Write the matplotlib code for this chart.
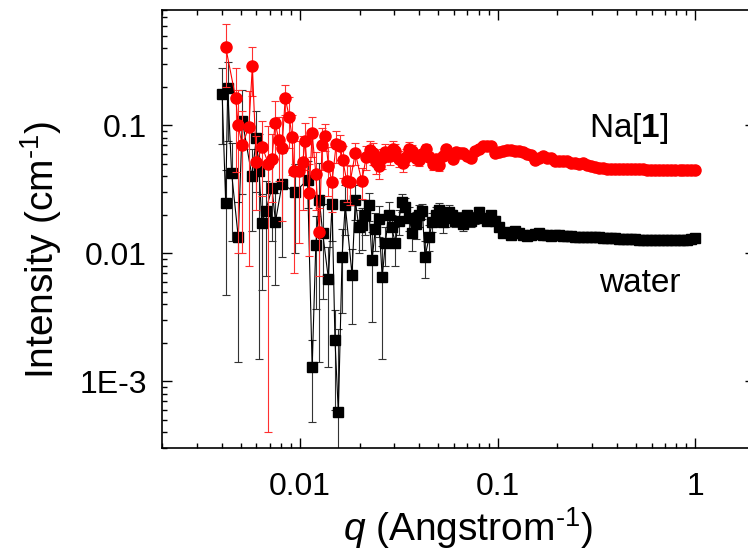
import matplotlib
matplotlib.use("Agg")
import matplotlib.pyplot as plt
from matplotlib.ticker import FixedLocator, FixedFormatter, LogLocator, NullFormatter

plt.rcParams['font.family'] = ['Liberation Sans', 'DejaVu Sans']
plt.rcParams['mathtext.fontset'] = 'custom'
plt.rcParams['mathtext.rm'] = 'Liberation Sans'
plt.rcParams['mathtext.it'] = 'Liberation Sans:italic'
plt.rcParams['mathtext.bf'] = 'Liberation Sans:bold'

# ---------------- data: Na[1] (red circles) ----------------
na_q = [0.0042, 0.00472, 0.00486, 0.00509, 0.0055, 0.00573, 0.0060, 0.00644, 0.0069, 0.0072,
        0.00747, 0.0078, 0.0081, 0.0084, 0.0088, 0.0091, 0.0093, 0.0099, 0.0103, 0.0106,
        0.0111, 0.0115, 0.0120, 0.0125, 0.0129, 0.0134, 0.0139, 0.0145, 0.0152, 0.0159,
        0.0164, 0.0172, 0.0179, 0.0190, 0.0205, 0.0216, 0.0225, 0.0233, 0.0241, 0.0250,
        0.0260, 0.0270, 0.0285, 0.0295, 0.0303, 0.0316, 0.0330, 0.0343, 0.0356, 0.0369,
        0.0385, 0.0400, 0.0415, 0.0431, 0.0451, 0.0470, 0.0487, 0.0504, 0.0525, 0.0546,
        0.0570, 0.0594, 0.0615,
        0.064, 0.067, 0.070, 0.073, 0.077, 0.080, 0.084, 0.088, 0.092, 0.097,
        0.101, 0.106, 0.111, 0.117, 0.122, 0.128, 0.134, 0.141, 0.148, 0.155,
        0.162, 0.170, 0.178, 0.186, 0.195, 0.205, 0.214, 0.225, 0.235, 0.247,
        0.258, 0.271, 0.284, 0.297, 0.311, 0.326, 0.342, 0.358, 0.375, 0.393,
        0.412, 0.432, 0.452, 0.474, 0.496, 0.520, 0.545, 0.571, 0.598, 0.627,
        0.657, 0.688, 0.721, 0.756, 0.792, 0.830, 0.869, 0.911, 0.954, 1.000]
na_I = [0.41, 0.163, 0.100, 0.070, 0.097, 0.29, 0.052, 0.068, 0.050, 0.055,
        0.105, 0.077, 0.067, 0.164, 0.117, 0.081, 0.044, 0.044, 0.052, 0.075,
        0.0296, 0.087, 0.042, 0.0146, 0.070, 0.083, 0.048, 0.036, 0.071, 0.069,
        0.054, 0.037, 0.036, 0.061, 0.0365, 0.057, 0.064, 0.061, 0.052, 0.048,
        0.056, 0.062, 0.058, 0.066, 0.063, 0.055, 0.051, 0.057, 0.066, 0.063,
        0.056, 0.054, 0.060, 0.065, 0.057, 0.050, 0.055, 0.049, 0.058, 0.065,
        0.060, 0.055, 0.062,
        0.061, 0.0608, 0.058, 0.0556, 0.0626, 0.065, 0.0685, 0.0685, 0.0685, 0.0608,
        0.062, 0.0626, 0.064, 0.0645, 0.063, 0.0626, 0.062, 0.060, 0.059, 0.054,
        0.056, 0.0573, 0.056, 0.0556, 0.053, 0.0523, 0.0523, 0.0523, 0.051, 0.051,
        0.050, 0.0505, 0.0493, 0.048, 0.047, 0.0464, 0.0462, 0.046, 0.046, 0.0458,
        0.0458, 0.0456, 0.0455, 0.0455, 0.0455, 0.0454, 0.0453, 0.0452, 0.0451, 0.045,
        0.045, 0.045, 0.045, 0.0449, 0.0449, 0.0448, 0.0448, 0.0447, 0.0446, 0.0446]
na_err = [0.21, 0.12, 0.09, 0.06, 0.089, 0.12, 0.03, 0.04, 0.0496, 0.03,
          0.05, 0.04, 0.049, 0.044, 0.05, 0.04, 0.037, 0.032, 0.03, 0.03,
          0.02, 0.03, 0.02, 0.008, 0.025, 0.02, 0.02, 0.015, 0.02, 0.015,
          0.015, 0.012, 0.012, 0.012, 0.01, 0.012, 0.012, 0.012, 0.01, 0.01,
          0.01, 0.01, 0.009, 0.009, 0.009, 0.008, 0.008, 0.008, 0.008, 0.007,
          0.007, 0.006, 0.006, 0.006, 0.005, 0.005, 0.005, 0.005, 0.004, 0.004,
          0.004, 0.004, 0.003,
          0.003, 0.003, 0.003, 0.003, 0.003, 0.003, 0.003, 0.002, 0.002, 0.002,
          0.002, 0.002, 0.002, 0.002, 0.002, 0.002, 0.002, 0.002, 0.002, 0.002,
          0.001, 0.001, 0.001, 0.001, 0.001, 0.001, 0.001, 0.001, 0.001, 0.001,
          0.001, 0.001, 0.001, 0.001, 0.001, 0.001, 0.001, 0.001, 0.001, 0.001,
          0.001, 0.001, 0.001, 0.001, 0.001, 0.001, 0.001, 0.001, 0.001, 0.001,
          0.001, 0.001, 0.001, 0.001, 0.001, 0.001, 0.001, 0.001, 0.001, 0.001]

# ---------------- data: water (black squares) ----------------
w_q = [0.00403, 0.0042, 0.0043, 0.0045, 0.00486, 0.0051, 0.0057, 0.0060, 0.0062, 0.0064,
       0.0067, 0.0072, 0.0075, 0.0081, 0.0094, 0.0109, 0.0115, 0.0120, 0.0125, 0.0130,
       0.0139, 0.0145, 0.0150, 0.0156, 0.0163, 0.0169, 0.0183, 0.0190, 0.0198, 0.0206,
       0.0213, 0.0222, 0.0231, 0.0240, 0.0250, 0.0260, 0.0270, 0.0280, 0.0290, 0.0303,
       0.0315, 0.0328, 0.0340, 0.0355, 0.0369, 0.0385, 0.0399, 0.0415, 0.0428, 0.0450,
       0.0466, 0.0485, 0.0505, 0.0525, 0.0545, 0.0565, 0.0588, 0.0610,
       0.064, 0.067, 0.070, 0.073, 0.077, 0.080, 0.084, 0.088, 0.092, 0.097,
       0.101, 0.106, 0.111, 0.117, 0.122, 0.128, 0.134, 0.141, 0.148, 0.155,
       0.162, 0.170, 0.178, 0.186, 0.195, 0.205, 0.214, 0.225, 0.235, 0.247,
       0.258, 0.271, 0.284, 0.297, 0.311, 0.326, 0.342, 0.358, 0.375, 0.393,
       0.412, 0.432, 0.452, 0.474, 0.496, 0.520, 0.545, 0.571, 0.598, 0.627,
       0.657, 0.688, 0.721, 0.756, 0.792, 0.830, 0.869, 0.911, 0.954, 1.000]
w_I = [0.176, 0.0247, 0.196, 0.0424, 0.0134, 0.109, 0.040, 0.080, 0.0437, 0.0172,
       0.0216, 0.0324, 0.0177, 0.035, 0.030, 0.0376, 0.00128, 0.0117, 0.0262, 0.0144,
       0.0063, 0.0244, 0.0021, 0.00057, 0.0094, 0.024, 0.0068, 0.0262, 0.016, 0.0167,
       0.020, 0.0238, 0.0088, 0.0155, 0.0185, 0.0065, 0.012, 0.020, 0.016, 0.012,
       0.018, 0.0251, 0.023, 0.019, 0.0145, 0.017, 0.020, 0.0215, 0.0094, 0.0135,
       0.0177, 0.020, 0.0219, 0.0175, 0.019, 0.021, 0.020, 0.018,
       0.019, 0.017, 0.020, 0.018, 0.019, 0.021, 0.019, 0.018, 0.020, 0.018,
       0.016, 0.0145, 0.0148, 0.0140, 0.0150, 0.0145, 0.0140, 0.0137, 0.0140, 0.0142,
       0.0143, 0.0140, 0.0138, 0.0137, 0.0140, 0.0139, 0.0137, 0.0136, 0.0136, 0.0135,
       0.0134, 0.0133, 0.0133, 0.0134, 0.0133, 0.0133, 0.0132, 0.0131, 0.0131, 0.0131,
       0.0130, 0.0130, 0.0130, 0.0129, 0.0129, 0.0128, 0.0128, 0.0128, 0.0128, 0.0127,
       0.0127, 0.0127, 0.0127, 0.0127, 0.0126, 0.0126, 0.0126, 0.0127, 0.0129, 0.0132]
w_err = [0.105, 0.02, 0.12, 0.03, 0.012, 0.08, 0.025, 0.05, 0.0422, 0.012,
         0.015, 0.02, 0.012, 0.0256, 0.02, 0.015, 0.0008, 0.008, 0.0248, 0.01,
         0.005, 0.012, 0.0015, 0.002, 0.006, 0.01, 0.004, 0.008, 0.006, 0.006,
         0.006, 0.006, 0.0059, 0.005, 0.005, 0.005, 0.004, 0.005, 0.004, 0.004,
         0.004, 0.004, 0.004, 0.004, 0.004, 0.004, 0.004, 0.003, 0.003, 0.003,
         0.003, 0.003, 0.003, 0.003, 0.003, 0.003, 0.002, 0.002,
         0.002, 0.002, 0.002, 0.002, 0.002, 0.002, 0.0015, 0.0015, 0.0015, 0.0015,
         0.001, 0.001, 0.001, 0.001, 0.001, 0.001, 0.001, 0.001, 0.001, 0.001,
         0.0006, 0.0006, 0.0006, 0.0006, 0.0006, 0.0006, 0.0006, 0.0006, 0.0006, 0.0006,
         0.0005, 0.0005, 0.0005, 0.0005, 0.0005, 0.0005, 0.0005, 0.0005, 0.0005, 0.0005,
         0.0005, 0.0005, 0.0005, 0.0005, 0.0005, 0.0005, 0.0005, 0.0005, 0.0005, 0.0005,
         0.0005, 0.0005, 0.0005, 0.0005, 0.0005, 0.0005, 0.0005, 0.0005, 0.0005, 0.0005]

x_ticks = [0.01, 0.1, 1]
x_ticklabels = ['0.01', '0.1', '1']
y_ticks = [1e-3, 1e-2, 1e-1]
y_ticklabels = ['1E-3', '0.01', '0.1']

W, H = 748, 555
fig = plt.figure(figsize=(W / 100, H / 100), dpi=100)
ax = fig.add_axes([162 / W, 107 / H, (755 - 162) / W, 438 / H])
ax.set_xscale('log')
ax.set_yscale('log')

ax.errorbar(w_q, w_I, yerr=w_err, fmt='-s', color='black', ms=7, lw=0.8,
            elinewidth=0.8, capsize=3.2, capthick=0.8, ecolor='#333333', zorder=2)
ax.errorbar(na_q, na_I, yerr=na_err, fmt='-o', color='red', ms=8, lw=0.8,
            elinewidth=0.8, capsize=3.2, capthick=0.8, ecolor='#ff3030', zorder=3)

ax.set_xlim(0.002, 2.0)
ax.set_ylim(3e-4, 0.8)

ax.xaxis.set_major_locator(FixedLocator(x_ticks))
ax.xaxis.set_major_formatter(FixedFormatter(x_ticklabels))
ax.yaxis.set_major_locator(FixedLocator(y_ticks))
ax.yaxis.set_major_formatter(FixedFormatter(y_ticklabels))
ax.xaxis.set_minor_locator(LogLocator(base=10, subs=[2, 3, 4, 5, 6, 7, 8, 9], numticks=20))
ax.yaxis.set_minor_locator(LogLocator(base=10, subs=[2, 3, 4, 5, 6, 7, 8, 9], numticks=20))
ax.xaxis.set_minor_formatter(NullFormatter())
ax.yaxis.set_minor_formatter(NullFormatter())

ax.tick_params(which='both', direction='in', top=True, right=True, width=1.0)
ax.tick_params(which='major', length=7, labelsize=23)
ax.tick_params(axis='x', which='major', pad=17)
ax.tick_params(axis='y', which='major', pad=11)
ax.tick_params(which='minor', length=3.5)
for s in ax.spines.values():
    s.set_linewidth(1.2)

ax.text(0.288, 0.0816, r'Na[$\mathbf{1}$]', fontsize=24, ha='left', va='baseline')
ax.text(0.327, 0.00499, 'water', fontsize=24, ha='left', va='baseline')

fig.text(41 / W, 1 - 250 / H, r'Intensity (cm$^{\text{-1}}$)', rotation=90,
         fontsize=28, ha='center', va='center')
fig.text(468 / W, 1 - 528 / H, r'$q$ (Angstrom$^{\text{-1}}$)',
         fontsize=28, ha='center', va='center')

fig.savefig('out.png', dpi=100)
